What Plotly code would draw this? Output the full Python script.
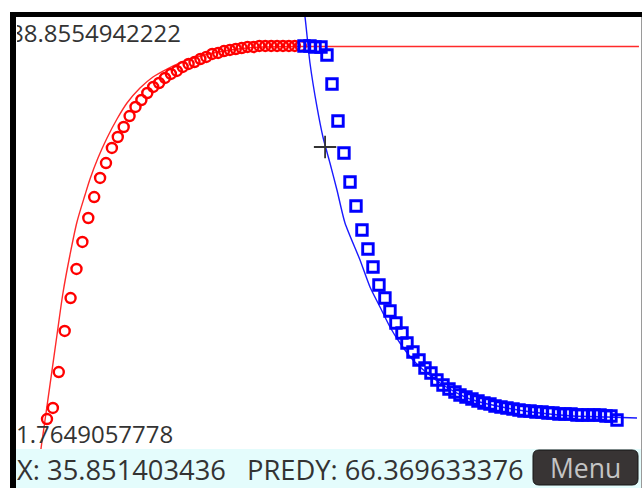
import plotly.graph_objects as go

# ---------------- data ----------------
red_x = [0.5, 1.25, 2.0, 2.75, 3.5, 4.25, 5.0, 5.75, 6.5, 7.25, 8.0, 8.75, 9.5, 10.25,
         11.0, 11.75, 12.5, 13.25, 14.0, 14.75, 15.5, 16.25, 17.0, 17.75, 18.5, 19.25,
         20.0, 20.75, 21.5, 22.25, 23.0, 23.75, 24.5, 25.25, 26.0, 26.75, 27.5, 28.25,
         29.0, 29.75, 30.5, 31.25, 32.0, 32.75]
red_y = [19.32, 21.23, 27.45, 34.55, 40.25, 45.27, 49.94, 54.09, 57.72, 61.01, 63.60,
         66.20, 68.10, 69.83, 71.73, 73.29, 74.50, 75.71, 76.75, 77.44, 78.31, 79.00,
         79.52, 80.21, 80.73, 81.07, 81.59, 81.94, 82.46, 82.63, 82.97, 83.15, 83.32,
         83.49, 83.67, 83.67, 83.84, 83.84, 83.84, 83.84, 83.84, 83.84, 83.84, 83.84]

blue_x = [33.17, 33.93, 34.57, 35.33, 36.09, 36.73, 37.49, 38.25, 39.02, 39.78, 40.54,
          41.30, 41.94, 42.70, 43.46, 44.10, 44.86, 45.63, 46.26, 47.02, 47.79, 48.55,
          49.31, 50.07, 50.84, 51.60, 52.36, 53.00, 53.76, 54.52, 55.29, 56.05, 56.81,
          57.45, 58.21, 58.97, 59.74, 60.50, 61.13, 61.90, 62.66, 63.42, 64.18, 64.82,
          65.58, 66.35, 67.11, 67.87, 68.51, 69.27, 70.03, 70.80, 71.56, 72.19, 72.96]
blue_y = [83.84, 83.84, 83.67, 83.67, 82.28, 77.27, 70.87, 65.33, 60.32, 56.17, 52.01,
          48.73, 45.61, 42.50, 40.25, 38.00, 35.93, 34.20, 32.47, 30.91, 29.53, 28.15,
          27.28, 26.07, 25.21, 24.51, 23.99, 23.48, 23.13, 22.78, 22.44, 22.09, 21.92,
          21.57, 21.40, 21.23, 21.05, 20.88, 20.71, 20.71, 20.54, 20.54, 20.36, 20.36,
          20.19, 20.19, 20.19, 20.02, 20.02, 20.02, 20.02, 20.02, 19.84, 19.84, 19.15]

red_fit_x = [-0.64, -0.20, 0.25, 0.88, 1.77, 2.53, 3.42, 4.31, 5.33, 5.97, 6.98, 8.13,
             9.40, 10.67, 12.32, 13.97, 15.75, 17.41, 19.57, 21.60, 23.76, 25.92, 27.96,
             32.66, 75.75]
red_fit_y = [10.50, 14.83, 19.15, 25.21, 33.85, 41.12, 47.69, 53.40, 58.07, 60.84, 64.47,
             67.93, 71.21, 73.98, 76.57, 78.48, 79.86, 80.90, 81.94, 82.63, 83.15, 83.49,
             83.67, 83.75, 83.75]

blue_fit_x = [32.91, 33.30, 33.93, 34.82, 35.58, 36.47, 37.36, 38.38, 40.29, 41.56, 42.83,
              44.10, 45.37, 47.02, 48.80, 50.46, 52.62, 54.65, 58.97, 63.17, 67.36, 71.68,
              75.5]
blue_fit_y = [92.31, 88.855, 80.90, 73.29, 68.10, 63.60, 58.93, 53.23, 46.83, 42.16, 38.70,
              35.24, 32.47, 29.53, 27.28, 25.55, 23.82, 22.61, 21.23, 20.36, 19.84, 19.67,
              19.50]

cursor_x = [35.851403436]
cursor_y = [66.369633376]

y_max_label = "88.8554942222"
y_min_label = "1.7649057778"
status_x = "X: 35.851403436"
status_y = "PREDY: 66.369633376"
menu_label = "Menu"

X_RANGE = [-3.44, 76.01]
Y_RANGE = [7.39, 88.855]

# ---------------- layout helpers (pixel -> paper) ----------------
W, H = 644, 488
PL, PR, PT, PB = 16, 641, 17, 488


def xp(px):
    return (px - PL) / (PR - PL)


def yp(py):
    return (PB - py) / (PB - PT)


fig = go.Figure()
fig.add_trace(go.Scatter(x=red_fit_x, y=red_fit_y, mode="lines",
                         line=dict(color="#ff2a2a", width=1.4, shape="spline", smoothing=0.8),
                         hoverinfo="skip"))
fig.add_trace(go.Scatter(x=red_x, y=red_y, mode="markers",
                         marker=dict(symbol="circle-open", size=10, color="#ff0000",
                                     line=dict(width=2.4, color="#ff0000"))))
fig.add_trace(go.Scatter(x=blue_fit_x, y=blue_fit_y, mode="lines",
                         line=dict(color="#1a1aff", width=1.4, shape="spline", smoothing=0.6),
                         hoverinfo="skip"))
fig.add_trace(go.Scatter(x=blue_x, y=blue_y, mode="markers",
                         marker=dict(symbol="square-open", size=10.5, color="#0000ff",
                                     line=dict(width=2.9, color="#0000ff"))))
fig.add_trace(go.Scatter(x=cursor_x, y=cursor_y, mode="markers",
                         marker=dict(symbol="cross-thin", size=16,
                                     line=dict(width=1.8, color="#333333"))))

shapes = [
    # cyan status bar
    dict(type="rect", xref="paper", yref="paper", x0=xp(16), x1=xp(641), y0=yp(488), y1=yp(449),
         fillcolor="#e4fcfc", line=dict(width=0), layer="above"),
    # black frame (top and left)
    dict(type="rect", xref="paper", yref="paper", x0=xp(10), x1=xp(642), y0=yp(17), y1=yp(12),
         fillcolor="#000000", line=dict(width=0), layer="above"),
    dict(type="rect", xref="paper", yref="paper", x0=xp(10), x1=xp(16), y0=yp(488), y1=yp(12),
         fillcolor="#000000", line=dict(width=0), layer="above"),
    # right grey edge
    dict(type="line", xref="paper", yref="paper", x0=xp(641.5), x1=xp(641.5), y0=yp(488), y1=yp(17),
         line=dict(color="#9a9a9a", width=1), layer="above"),
]

# rounded Menu button
bx0, bx1, by0, by1, r = 533, 638, 450, 485, 6
path = (f"M {xp(bx0 + r)},{yp(by0)} L {xp(bx1 - r)},{yp(by0)} "
        f"Q {xp(bx1)},{yp(by0)} {xp(bx1)},{yp(by0 + r)} L {xp(bx1)},{yp(by1 - r)} "
        f"Q {xp(bx1)},{yp(by1)} {xp(bx1 - r)},{yp(by1)} L {xp(bx0 + r)},{yp(by1)} "
        f"Q {xp(bx0)},{yp(by1)} {xp(bx0)},{yp(by1 - r)} L {xp(bx0)},{yp(by0 + r)} "
        f"Q {xp(bx0)},{yp(by0)} {xp(bx0 + r)},{yp(by0)} Z")
shapes.append(dict(type="path", xref="paper", yref="paper", path=path,
                   fillcolor="#383434", line=dict(color="#151515", width=1), layer="above"))

label_font = dict(family="Open Sans", size=24, color="#333333")
status_font = dict(family="Open Sans", size=27.3, color="#333333")

annotations = [
    # top label: left part hidden behind the frame, as on the screen
    dict(text=y_max_label, xref="paper", yref="paper", x=xp(16), y=yp(32),
         xanchor="left", yanchor="middle", showarrow=False, font=label_font,
         width=164, height=26, align="right", borderpad=0),
    dict(text=y_min_label, xref="paper", yref="paper", x=xp(15), y=yp(433),
         xanchor="left", yanchor="middle", showarrow=False, font=label_font,
         height=26, borderpad=0),
    dict(text=status_x, xref="paper", yref="paper", x=xp(16), y=yp(469),
         xanchor="left", yanchor="middle", showarrow=False, font=status_font,
         height=30, borderpad=0),
    dict(text=status_y, xref="paper", yref="paper", x=xp(246), y=yp(469),
         xanchor="left", yanchor="middle", showarrow=False, font=status_font,
         height=30, borderpad=0),
    dict(text=menu_label, xref="paper", yref="paper", x=xp(585), y=yp(468),
         xanchor="center", yanchor="middle", showarrow=False,
         font=dict(family="Open Sans", size=26.5, color="#c4c4c4"),
         height=28, borderpad=0),
]

fig.update_layout(
    width=W, height=H,
    margin=dict(l=PL, r=W - PR, t=PT, b=H - PB, pad=0),
    paper_bgcolor="white", plot_bgcolor="white",
    showlegend=False,
    xaxis=dict(range=X_RANGE, visible=False, showgrid=False, zeroline=False, fixedrange=True),
    yaxis=dict(range=Y_RANGE, visible=False, showgrid=False, zeroline=False, fixedrange=True),
    shapes=shapes, annotations=annotations,
)

fig.write_html("out.html", config={"displayModeBar": False},
               post_script="document.body.style.margin='0px';")
